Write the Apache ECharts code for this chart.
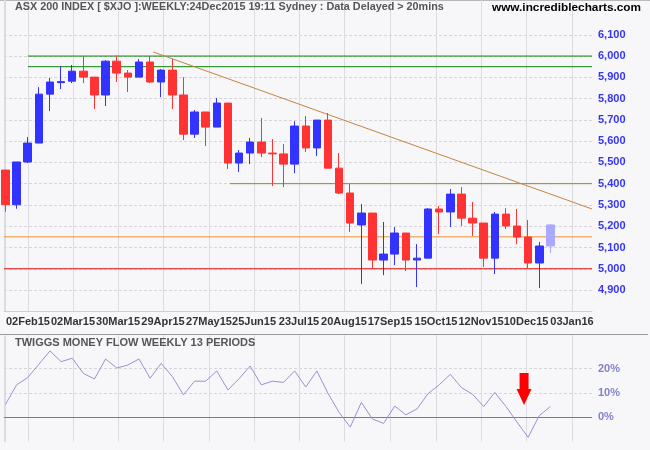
<!DOCTYPE html>
<html><head><meta charset="utf-8">
<script src="https://cdn.jsdelivr.net/npm/echarts@6/dist/echarts.min.js"></script>
<style>html,body{margin:0;padding:0;background:#f7f7f9}#c{width:650px;height:450px}</style>
</head><body><div id="c"></div>
<script>
// ---- data ----
const weeks = ['16Jan15','23Jan15','30Jan15','06Feb15','13Feb15','20Feb15','27Feb15','06Mar15','13Mar15','20Mar15',
  '27Mar15','03Apr15','10Apr15','17Apr15','24Apr15','01May15','08May15','15May15','22May15','29May15',
  '05Jun15','12Jun15','19Jun15','26Jun15','03Jul15','10Jul15','17Jul15','24Jul15','31Jul15','07Aug15',
  '14Aug15','21Aug15','28Aug15','04Sep15','11Sep15','18Sep15','25Sep15','02Oct15','09Oct15','16Oct15',
  '23Oct15','30Oct15','06Nov15','13Nov15','20Nov15','27Nov15','04Dec15','11Dec15','18Dec15','24Dec15'];
const open  = [5464,5301,5502,5591,5821,5875,5882,5929,5901,5817,5976,5920,5901,5972,5878,5934,5817,5633,5737,5666,
  5779,5497,5544,5596,5544,5540,5492,5671,5568,5699,5473,5356,5206,5262,5041,5069,5168,5041,5050,5281,
  5267,5351,5238,5215,5050,5257,5201,5149,5027,5107];
const close = [5301,5502,5591,5821,5878,5880,5929,5901,5817,5976,5920,5901,5972,5878,5934,5817,5633,5737,5666,5779,
  5497,5544,5596,5544,5540,5492,5671,5568,5699,5473,5356,5215,5262,5041,5069,5168,5041,5050,5281,5267,
  5351,5238,5215,5050,5257,5201,5149,5027,5107,5206];
const high  = [5464,5502,5619,5854,5897,5953,5958,6000,5901,5981,6003,5934,5986,6000,5939,5986,5901,5746,5737,5803,
  5779,5558,5615,5709,5610,5586,5694,5718,5699,5732,5544,5398,5304,5262,5220,5196,5168,5116,5285,5295,
  5375,5384,5314,5215,5267,5285,5281,5229,5126,5210];
const low   = [5268,5282,5497,5591,5741,5845,5873,5873,5751,5765,5878,5831,5901,5873,5807,5751,5605,5615,5577,5666,
  5469,5455,5492,5525,5389,5384,5450,5549,5530,5473,5351,5173,4928,4999,4970,5017,4989,4914,5050,5163,
  5196,5201,5154,5008,4975,5187,5116,4999,4909,5074];
const partialWeek = 49; // current (incomplete) week
const tmf = [5.3,13.3,16.3,21.7,27.2,22.8,24.2,18.0,15.7,23.9,20.2,21.4,23.9,16.0,22.1,16.7,9.2,14.8,14.8,19.0,
  11.2,15.8,21.0,13.3,14.8,14.3,19.0,12.4,19.0,9.8,2.0,-4.0,6.1,-0.7,-2.5,4.6,1.0,3.4,9.7,13.3,
  17.6,12.2,9.4,4.4,10.2,4.4,-2.0,-8.2,0.7,4.4];
// x tick positions (in week units) and labels
const tickPos = [2.02,6.07,10.12,14.16,18.3,22.35,26.39,30.44,34.58,38.71,42.76,46.81,50.94];
const tickLabels = ['02Feb15','02Mar15','30Mar15','29Apr15','27May15','25Jun15','23Jul15','20Aug15','17Sep15','15Oct15','12Nov15','10Dec15','03Jan16'];
// horizontal levels: value and starting week
const levelValues = [6000, 5950, 5400, 5150, 5000];
const levelStart  = [2.02, 2.02, 20.19, null, null];
// trend line end points
const trendX = [13.3, 52.74];
const trendY = [6019, 5281];
// arrow annotation
const arrowAt = [46.63, 5];

// ---- chart ----
const X_MIN = -0.135, X_MAX = 52.74;
const FONT = '"Liberation Sans", Arial, sans-serif';
const levelColors = ['#0a840a', '#0a840a', '#8a8a36', '#f0902c', '#e01010'];
const VGRID = '#dcdce0';

const candleData = open.map((o, i) => {
  const v = [i, o, close[i], low[i], high[i]];
  return i === partialWeek
    ? { name: weeks[i], value: v, itemStyle: { color: '#a9a9ff', borderColor: '#a9a9ff' } }
    : { name: weeks[i], value: v };
});

const series = [];
levelValues.forEach((v, k) => {
  const s = levelStart[k] == null ? X_MIN : levelStart[k];
  series.push({
    type: 'line', xAxisIndex: 0, yAxisIndex: 0, silent: true, symbol: 'none', z: 2,
    data: [[s, v], [X_MAX, v]],
    lineStyle: { color: levelColors[k], width: 1 }
  });
});
series.push({
  type: 'line', xAxisIndex: 0, yAxisIndex: 0, silent: true, symbol: 'none', z: 2,
  data: [[trendX[0], trendY[0]], [trendX[1], trendY[1]]],
  lineStyle: { color: '#c3863f', width: 1 },
  markLine: {
    silent: true, symbol: 'none', z: 1, label: { show: false },
    lineStyle: { color: VGRID, type: 'solid', width: 1 },
    data: tickPos.map(p => ({ xAxis: p }))
  }
});
series.push({
  type: 'candlestick', xAxisIndex: 0, yAxisIndex: 0, z: 3,
  barWidth: 8,
  data: candleData,
  itemStyle: { color: '#3333ff', color0: '#ff3333', borderColor: '#3333ff', borderColor0: '#ff3333', borderWidth: 1 }
});
series.push({
  type: 'line', xAxisIndex: 1, yAxisIndex: 1, silent: true, symbol: 'none', z: 3,
  data: tmf.map((v, i) => [i, v]),
  lineStyle: { color: '#9494d4', width: 1 },
  markLine: {
    silent: true, symbol: 'none', z: 1, label: { show: false },
    data: tickPos.map(p => ({ xAxis: p, lineStyle: { color: VGRID, type: 'solid', width: 1 } }))
      .concat([{ yAxis: 0, lineStyle: { color: '#7272c8', type: 'solid', width: 1.2 } }])
  },
  markPoint: {
    silent: true, label: { show: false },
    data: [{
      coord: arrowAt,
      symbol: 'path://M3,0 L12,0 L12,16 L15,16 L7.5,32 L0,16 L3,16 Z',
      symbolSize: [15, 32], symbolOffset: [0, '-50%'],
      itemStyle: { color: '#ff0000' }
    }]
  }
});

const chart = echarts.init(document.getElementById('c'), null, { renderer: 'canvas' });
chart.setOption({
  backgroundColor: '#f7f7f9',
  animation: false,
  title: [
    { text: 'ASX 200 INDEX [ $XJO ]:WEEKLY:24Dec2015 19:11 Sydney : Data Delayed > 20mins', left: 15, top: 2, padding: 0,
      textStyle: { fontFamily: FONT, fontSize: 10.8, fontWeight: 'bold', color: '#555' } },
    { text: 'www.incrediblecharts.com', left: 492, top: 2, padding: 0,
      textStyle: { fontFamily: FONT, fontSize: 11.8, fontWeight: 'bold', color: '#000' } },
    { text: 'TWIGGS MONEY FLOW WEEKLY 13 PERIODS', left: 15, top: 337, padding: 0,
      textStyle: { fontFamily: FONT, fontSize: 11, fontWeight: 'bold', color: '#555' } }
  ],
  grid: [
    { left: 4, top: 0, width: 588, height: 311.3 },
    { left: 4, top: 335.3, width: 588, height: 106.4 }
  ],
  xAxis: [
    { type: 'value', gridIndex: 0, min: X_MIN, max: X_MAX,
      axisLine: { show: true, lineStyle: { color: '#d0d0d4' } }, axisTick: { show: false },
      splitLine: { show: false },
      axisLabel: { customValues: tickPos, margin: 5, fontFamily: FONT, fontSize: 11, fontWeight: 'bold', color: '#333',
        formatter: v => { const k = tickPos.findIndex(p => Math.abs(p - v) < 1e-6); return k < 0 ? '' : tickLabels[k]; } } },
    { type: 'value', gridIndex: 1, min: X_MIN, max: X_MAX,
      axisLine: { show: true, lineStyle: { color: '#d0d0d4' } }, axisTick: { show: false },
      splitLine: { show: false }, axisLabel: { show: false } }
  ],
  yAxis: [
    { type: 'value', gridIndex: 0, position: 'right', min: 4800, max: 6263.6, interval: 100,
      axisLine: { show: true, lineStyle: { color: VGRID } }, axisTick: { show: false },
      splitLine: { show: true, showMinLine: false, showMaxLine: false,
        lineStyle: { type: [3, 2], width: 1, color: Array(13).fill('#d6d6da').concat(['rgba(0,0,0,0)']) } },
      axisLabel: { margin: 6, fontFamily: FONT, fontSize: 11, fontWeight: 'bold', color: '#3535f5',
        formatter: v => (v >= 4900 && v <= 6100 && v % 100 === 0) ? v.toLocaleString('en-US') : '' } },
    { type: 'value', gridIndex: 1, position: 'right', min: -10, max: 33.6, interval: 10,
      axisLine: { show: true, lineStyle: { color: VGRID } }, axisTick: { show: false },
      splitLine: { show: true, showMinLine: false, showMaxLine: false,
        lineStyle: { type: [3, 2], width: 1, color: ['#d6d6da', '#d6d6da', '#d6d6da', 'rgba(0,0,0,0)'] } },
      axisLabel: { margin: 6, fontFamily: FONT, fontSize: 11, fontWeight: 'bold', color: '#8282cc',
        formatter: v => ([0, 10, 20].indexOf(v) >= 0 ? v + '%' : '') } }
  ],
  graphic: [
    { type: 'line', silent: true, z: 0, shape: { x1: 0, y1: 0.5, x2: 650, y2: 0.5 }, style: { stroke: '#b8b8b8', lineWidth: 1 } },
    { type: 'line', silent: true, z: 0, shape: { x1: 0, y1: 334.5, x2: 648, y2: 334.5 }, style: { stroke: '#9a9a9a', lineWidth: 1 } },
    { type: 'line', silent: true, z: 0, shape: { x1: 4.5, y1: 0, x2: 4.5, y2: 311 }, style: { stroke: VGRID, lineWidth: 1 } },
    { type: 'line', silent: true, z: 0, shape: { x1: 4.5, y1: 336, x2: 4.5, y2: 442 }, style: { stroke: VGRID, lineWidth: 1 } }
  ],
  series: series
});
</script>
</body></html>
